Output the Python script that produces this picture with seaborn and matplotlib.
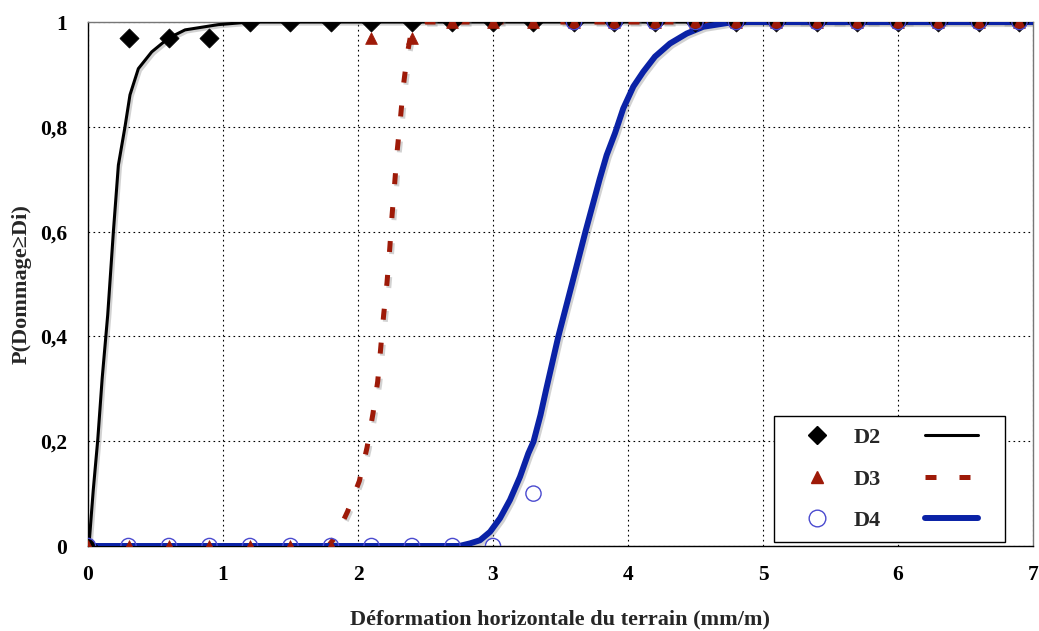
import numpy as np
import matplotlib
matplotlib.use('Agg')
import matplotlib.pyplot as plt
import matplotlib.patheffects as pe
from matplotlib.lines import Line2D
from matplotlib.legend_handler import HandlerLine2D
import seaborn as sns

# observed points (every 0.3 mm/m)
x_obs = [0.0, 0.3, 0.6, 0.9, 1.2, 1.5, 1.8, 2.1, 2.4, 2.7, 3.0, 3.3,
         3.6, 3.9, 4.2, 4.5, 4.8, 5.1, 5.4, 5.7, 6.0, 6.3, 6.6, 6.9]
d2_obs = [0, 0.97, 0.97, 0.97, 1, 1, 1, 1, 1, 1, 1, 1,
          1, 1, 1, 1, 1, 1, 1, 1, 1, 1, 1, 1]
d3_obs = [0, 0, 0, 0, 0, 0, 0, 0.97, 0.97, 1, 1, 1,
          1, 1, 1, 1, 1, 1, 1, 1, 1, 1, 1, 1]
d4_obs = [0, 0, 0, 0, 0, 0, 0, 0, 0, 0, 0, 0.1,
          1, 1, 1, 1, 1, 1, 1, 1, 1, 1, 1, 1]

# fitted curves
d2_x = [0, 0.01, 0.039, 0.072, 0.105, 0.146, 0.188, 0.225, 0.274, 0.311,
        0.373, 0.472, 0.595, 0.719, 0.964, 1.2, 7.0]
d2_y = [0, 0.011, 0.107, 0.202, 0.32, 0.441, 0.6, 0.727, 0.80, 0.861,
        0.911, 0.943, 0.969, 0.985, 0.995, 1.0, 1.0]

d3_x = [0, 1.78, 1.84, 1.923, 2.01, 2.067, 2.111, 2.146, 2.168, 2.19, 2.215,
        2.235, 2.252, 2.272, 2.291, 2.314, 2.338, 2.368, 2.39, 2.43, 2.5, 7.0]
d3_y = [0, 0, 0.02, 0.066, 0.124, 0.188, 0.253, 0.314, 0.377, 0.441, 0.503,
        0.567, 0.63, 0.693, 0.756, 0.815, 0.882, 0.943, 0.975, 0.993, 1.0, 1.0]

d4_x = [0, 2.75, 2.83, 2.904, 2.978, 3.052, 3.126, 3.2, 3.262, 3.3, 3.352,
        3.395, 3.484, 3.585, 3.685, 3.79, 3.842, 3.904, 3.965, 4.04, 4.113,
        4.2, 4.311, 4.435, 4.558, 4.756, 4.9, 7.0]
d4_y = [0, 0, 0.005, 0.011, 0.027, 0.053, 0.088, 0.132, 0.177, 0.199, 0.25,
        0.30, 0.40, 0.50, 0.60, 0.70, 0.746, 0.788, 0.835, 0.877, 0.905,
        0.934, 0.959, 0.978, 0.991, 0.999, 1.0, 1.0]

black = '#000000'
red = '#9E1A08'
blue = '#0A22A6'
blue_circ = '#4A4ACF'

sns.set_style('white')
plt.rcParams['font.family'] = ['Liberation Serif', 'DejaVu Serif']
plt.rcParams['font.weight'] = 'bold'

fig, ax = plt.subplots(figsize=(10.39, 6.31), dpi=100)
fig.subplots_adjust(left=0.0847, right=0.9942, bottom=0.1347, top=0.9651)

shadow = [pe.SimpleLineShadow(offset=(1.5, -1.5), shadow_color='gray', alpha=0.35), pe.Normal()]

# curves
sns.lineplot(x=d2_x, y=d2_y, ax=ax, color=black, linewidth=2.2, sort=False,
             estimator=None, zorder=3, path_effects=shadow)
sns.lineplot(x=d3_x, y=d3_y, ax=ax, color=red, linewidth=3.6, sort=False,
             estimator=None, zorder=3, path_effects=shadow)
ax.lines[-1].set_dashes((2.2, 4.6))
ax.lines[-1].set_dash_capstyle('butt')

# markers D2 and D3
sns.scatterplot(x=x_obs, y=d2_obs, ax=ax, marker='D', s=95, color=black,
                edgecolor=black, linewidth=0.5, zorder=4)
sns.scatterplot(x=x_obs, y=d3_obs, ax=ax, marker='^', s=72, color=red,
                edgecolor=red, linewidth=0.5, zorder=5)

# D4 line and circles
sns.lineplot(x=d4_x, y=d4_y, ax=ax, color=blue, linewidth=4.3, sort=False,
             estimator=None, zorder=3.5, path_effects=shadow)
sns.scatterplot(x=x_obs, y=d4_obs, ax=ax, marker='o', s=120, facecolor='none',
                edgecolor=blue_circ, linewidth=1.0, zorder=6)

ax.set_xlim(0, 7)
ax.set_ylim(0, 1)
ax.set_xticks([0, 1, 2, 3, 4, 5, 6, 7])
ax.set_yticks([0, 0.2, 0.4, 0.6, 0.8, 1.0])
ax.set_xticklabels(['0', '1', '2', '3', '4', '5', '6', '7'])
ax.set_yticklabels(['0', '0,2', '0,4', '0,6', '0,8', '1'])
ax.tick_params(axis='both', labelsize=15.5, direction='out', length=5, width=0.8,
               colors='black')
ax.tick_params(axis='x', pad=9)
ax.tick_params(axis='y', pad=10)
for lab in ax.get_xticklabels() + ax.get_yticklabels():
    lab.set_fontweight('bold')

ax.grid(True, linestyle=(0, (1.5, 3)), color='black', linewidth=0.8)
for s in ['left', 'bottom']:
    ax.spines[s].set_color('black')
    ax.spines[s].set_linewidth(1.0)
for s in ['top', 'right']:
    ax.spines[s].set_color('#777777')
    ax.spines[s].set_linewidth(1.0)

ax.set_xlabel('Déformation horizontale du terrain (mm/m)', fontsize=16,
              fontweight='bold', labelpad=17)
ax.set_ylabel('P(Dommage≥Di)', fontsize=16, fontweight='bold', labelpad=6)

# legend: marker, label, line sample
handles = [
    Line2D([], [], marker='D', color=black, linestyle='none', markersize=9),
    Line2D([], [], marker='^', color=red, linestyle='none', markersize=8.5),
    Line2D([], [], marker='o', color=blue_circ, markerfacecolor='none',
           linestyle='none', markersize=12, markeredgewidth=1.0),
    Line2D([], [], color=black, linewidth=2.2),
    Line2D([], [], color=red, linewidth=3.6, dashes=(2.2, 4.6), dash_capstyle='butt'),
    Line2D([], [], color=blue, linewidth=4.3),
]
labels = ['D2', 'D3', 'D4', '  ', '  ', '  ']
hmap = {h: HandlerLine2D(xpad=0.51) for h in handles[3:]}
leg = ax.legend(handles, labels, ncol=2, loc='lower right',
                bbox_to_anchor=(0.9705, 0.007), frameon=True, fancybox=False,
                edgecolor='black', framealpha=1,
                prop={'weight': 'bold', 'size': 16}, handlelength=2.9,
                columnspacing=1.47, labelspacing=0.95, borderpad=0.5,
                handletextpad=0.2, borderaxespad=0, handler_map=hmap)
leg.get_frame().set_linewidth(1.0)
leg.set_zorder(10)

plt.savefig('out.png', dpi=100)
